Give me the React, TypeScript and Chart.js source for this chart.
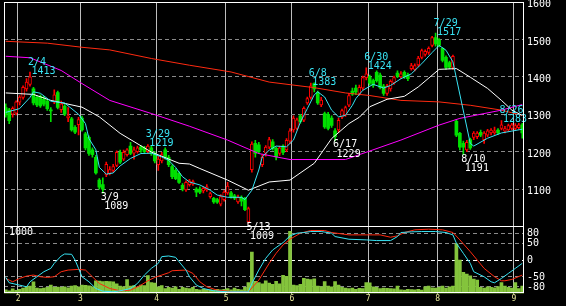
import React, { useEffect, useRef } from 'react';
import { Chart, registerables } from 'chart.js';
Chart.register(...registerables);

// ---- calendar (trading days, 2022) ----
const MONTH_DAYS: [number, number[]][] = [
  [1, [26, 27, 28, 31]],
  [2, [1, 2, 3, 4, 7, 8, 9, 10, 14, 15, 16, 17, 18, 21, 22, 24, 25, 28]],
  [3, [1, 2, 3, 4, 7, 8, 9, 10, 11, 14, 15, 16, 17, 18, 22, 23, 24, 25, 28, 29, 30, 31]],
  [4, [1, 4, 5, 6, 7, 8, 11, 12, 13, 14, 15, 18, 19, 20, 21, 22, 25, 26, 27, 28]],
  [5, [2, 6, 9, 10, 11, 12, 13, 16, 17, 18, 19, 20, 23, 24, 25, 26, 27, 30, 31]],
  [6, [1, 2, 3, 6, 7, 8, 9, 10, 13, 14, 15, 16, 17, 20, 21, 22, 23, 24, 27, 28, 29, 30]],
  [7, [1, 4, 5, 6, 7, 8, 11, 12, 13, 14, 15, 19, 20, 21, 22, 25, 26, 27, 28, 29]],
  [8, [1, 2, 3, 4, 5, 8, 9, 10, 12, 15, 16, 17, 18, 19, 22, 23, 24, 25, 26, 29, 30, 31]],
  [9, [1, 2, 5]],
];
const DATES: string[] = MONTH_DAYS.flatMap(([m, ds]) => ds.map((d) => `${m}/${d}`));

// ---- prices ----
const OPEN = [
  1318, 1312, 1300, 1303, 1332, 1345, 1368, 1380, 1368, 1345,
  1348, 1340, 1335, 1312, 1332, 1358, 1312, 1322, 1290, 1288,
  1265, 1272, 1290, 1248, 1238, 1205, 1185, 1124, 1112, 1138,
  1142, 1150, 1163, 1198, 1180, 1192, 1215, 1196, 1200, 1212,
  1210, 1200, 1210, 1195, 1165, 1175, 1205, 1185, 1160, 1150,
  1142, 1110, 1098, 1112, 1113, 1100, 1100, 1095, 1098, 1080,
  1075, 1072, 1060, 1072, 1090, 1090, 1082, 1066, 1078, 1075,
  1012, 1152, 1222, 1218, 1165, 1196, 1212, 1226, 1209, 1195,
  1215, 1205, 1228, 1258, 1262, 1296, 1284, 1330, 1345, 1382,
  1358, 1325, 1302, 1300, 1290, 1256, 1258, 1292, 1298, 1324,
  1362, 1370, 1356, 1370, 1398, 1400, 1390, 1412, 1405, 1375,
  1356, 1368, 1384, 1410, 1400, 1412, 1405, 1422, 1420, 1432,
  1452, 1460, 1465, 1484, 1505, 1498, 1476, 1452, 1438, 1425,
  1281, 1249, 1222, 1205, 1232, 1238, 1240, 1252, 1232, 1244,
  1250, 1250, 1258, 1262, 1255, 1258, 1262, 1262, 1264, 1272,
];
const HIGH = [
  1328, 1316, 1320, 1336, 1350, 1376, 1395, 1413, 1372, 1350,
  1352, 1348, 1340, 1318, 1365, 1362, 1335, 1326, 1318, 1292,
  1270, 1292, 1295, 1252, 1242, 1210, 1190, 1128, 1130, 1172,
  1160, 1166, 1202, 1204, 1204, 1208, 1225, 1212, 1215, 1216,
  1214, 1219, 1214, 1200, 1188, 1198, 1210, 1190, 1165, 1155,
  1146, 1115, 1122, 1126, 1124, 1104, 1106, 1106, 1112, 1092,
  1078, 1075, 1085, 1096, 1118, 1094, 1086, 1084, 1082, 1078,
  1052, 1226, 1230, 1225, 1192, 1216, 1238, 1232, 1212, 1215,
  1218, 1235, 1262, 1296, 1290, 1300, 1320, 1346, 1383, 1384,
  1362, 1345, 1306, 1305, 1296, 1262, 1290, 1314, 1322, 1356,
  1370, 1378, 1378, 1402, 1424, 1405, 1394, 1416, 1410, 1380,
  1380, 1392, 1402, 1416, 1414, 1416, 1410, 1436, 1435, 1455,
  1474, 1472, 1480, 1508, 1517, 1502, 1478, 1456, 1442, 1458,
  1286, 1252, 1228, 1230, 1236, 1254, 1254, 1258, 1254, 1260,
  1262, 1266, 1262, 1283, 1268, 1274, 1276, 1275, 1276, 1276,
];
const LOW = [
  1292, 1275, 1292, 1298, 1325, 1340, 1362, 1375, 1325, 1320,
  1318, 1322, 1310, 1280, 1328, 1314, 1305, 1296, 1280, 1255,
  1248, 1245, 1255, 1205, 1190, 1185, 1140, 1100, 1089, 1133,
  1138, 1145, 1160, 1168, 1176, 1188, 1192, 1180, 1196, 1198,
  1196, 1196, 1190, 1170, 1150, 1170, 1180, 1160, 1128, 1125,
  1115, 1095, 1094, 1108, 1110, 1080, 1088, 1090, 1094, 1076,
  1062, 1062, 1055, 1068, 1086, 1076, 1072, 1062, 1055, 1042,
  1009, 1145, 1185, 1195, 1160, 1188, 1208, 1204, 1178, 1190,
  1192, 1200, 1222, 1252, 1258, 1276, 1280, 1326, 1340, 1360,
  1326, 1320, 1262, 1258, 1265, 1229, 1252, 1288, 1294, 1320,
  1350, 1352, 1350, 1365, 1392, 1378, 1372, 1386, 1368, 1350,
  1350, 1362, 1380, 1398, 1396, 1396, 1390, 1418, 1416, 1428,
  1448, 1455, 1460, 1480, 1482, 1480, 1440, 1420, 1422, 1420,
  1240, 1205, 1191, 1200, 1206, 1232, 1235, 1240, 1222, 1240,
  1245, 1246, 1246, 1258, 1250, 1254, 1258, 1256, 1260, 1236,
];
const CLOSE = [
  1298, 1283, 1316, 1333, 1346, 1372, 1386, 1400, 1330, 1325,
  1322, 1327, 1315, 1309, 1352, 1318, 1328, 1300, 1296, 1258,
  1252, 1286, 1258, 1210, 1195, 1192, 1143, 1105, 1100, 1166,
  1152, 1160, 1198, 1172, 1198, 1205, 1195, 1205, 1210, 1205,
  1200, 1215, 1195, 1175, 1180, 1192, 1185, 1165, 1133, 1128,
  1118, 1100, 1118, 1122, 1120, 1092, 1092, 1102, 1106, 1088,
  1066, 1065, 1080, 1092, 1108, 1080, 1076, 1078, 1068, 1045,
  1048, 1220, 1195, 1200, 1185, 1212, 1232, 1208, 1186, 1210,
  1198, 1230, 1256, 1290, 1285, 1280, 1316, 1342, 1376, 1368,
  1330, 1338, 1266, 1262, 1270, 1240, 1284, 1310, 1318, 1350,
  1354, 1360, 1372, 1398, 1408, 1383, 1378, 1390, 1372, 1356,
  1375, 1388, 1398, 1402, 1408, 1400, 1395, 1430, 1430, 1450,
  1470, 1468, 1476, 1505, 1488, 1484, 1444, 1425, 1426, 1455,
  1244, 1212, 1212, 1225, 1210, 1250, 1250, 1244, 1250, 1256,
  1258, 1256, 1250, 1272, 1262, 1270, 1272, 1270, 1272, 1250,
];
const VOLUME = [
  60, 45, 75, 50, 70, 90, 110, 120, 190, 90,
  80, 90, 100, 140, 100, 105, 100, 110, 95, 120,
  130, 110, 140, 135, 125, 110, 210, 205, 195, 200,
  195, 190, 160, 120, 110, 230, 120, 130, 100, 140,
  130, 295, 180, 170, 110, 130, 80, 100, 90, 110,
  70, 100, 90, 80, 100, 70, 60, 70, 65, 60,
  55, 70, 60, 70, 80, 60, 90, 70, 60, 100,
  180, 680, 200, 180, 160, 210, 170, 150, 200, 160,
  300, 280, 1020, 140, 130, 150, 250, 235, 230, 240,
  120, 110, 195, 120, 110, 195, 140, 100, 90, 80,
  90, 70, 85, 80, 180, 175, 110, 100, 80, 90,
  85, 80, 75, 120, 60, 55, 70, 65, 60, 70,
  55, 110, 120, 95, 90, 100, 120, 90, 110, 120,
  815, 550, 346, 320, 292, 237, 220, 100, 90, 110,
  100, 95, 115, 180, 120, 100, 90, 180, 80, 120,
];

// ---- moving averages: [day index, value] ----
const MA_SHORT: [number, number][] = [
  [0, 1305], [4, 1315], [7, 1345], [8, 1360], [10, 1356], [13, 1335], [17, 1330], [21, 1300],
  [23, 1275], [24, 1235], [26, 1205], [27, 1158], [29, 1140], [31, 1143], [33, 1162], [36, 1182],
  [39, 1195], [42, 1196], [45, 1186], [47, 1177], [49, 1158], [51, 1133], [53, 1119], [56, 1111],
  [59, 1097], [61, 1084], [64, 1078], [68, 1078], [69, 1072], [71, 1097], [73, 1151], [74, 1186],
  [76, 1204], [78, 1215], [81, 1213], [83, 1231], [85, 1279], [87, 1315], [89, 1352], [90, 1360],
  [92, 1346], [94, 1311], [96, 1293], [98, 1297], [100, 1324], [101, 1342], [103, 1364], [106, 1380],
  [109, 1370], [111, 1377], [114, 1395], [117, 1408], [120, 1435], [123, 1465], [125, 1484], [127, 1471],
  [129, 1440], [134, 1222], [135, 1215], [139, 1236], [143, 1250], [146, 1255], [149, 1260],
];
const MA_MID: [number, number][] = [
  [0, 1357], [8, 1353], [13, 1337], [22, 1319], [27, 1293], [33, 1249], [42, 1199], [50, 1169],
  [53, 1167], [56, 1155], [64, 1124], [70, 1097], [76, 1119], [82, 1124], [89, 1169], [94, 1235],
  [99, 1275], [102, 1292], [105, 1320], [110, 1340], [115, 1348], [119, 1373], [125, 1420], [130, 1422],
  [134, 1399], [139, 1369], [143, 1337], [146, 1311], [149, 1297],
];
const MA_LONG: [number, number][] = [
  [0, 1455], [7, 1451], [16, 1417], [22, 1382], [30, 1337], [42, 1302], [53, 1268], [64, 1231],
  [73, 1195], [82, 1179], [98, 1179], [102, 1192], [114, 1231], [125, 1271], [131, 1289], [143, 1311],
  [149, 1326],
];
const MA_XLONG: [number, number][] = [
  [0, 1495], [12, 1490], [22, 1479], [30, 1472], [42, 1449], [53, 1431], [65, 1413], [76, 1386],
  [89, 1371], [98, 1357], [105, 1350], [114, 1337], [125, 1333], [134, 1324], [143, 1311], [149, 1297],
];

// ---- oscillators (lower panel) ----
const OSC_FAST: [number, number][] = [
  [0, -52], [1, -68], [4, -75], [6, -80], [7, -65], [9, -50], [11, -35], [13, -25], [14, -10], [16, 12],
  [17, 18], [19, 17], [20, 0], [21, -25], [22, -50], [24, -65], [26, -85], [28, -93], [31, -95], [34, -90],
  [36, -85], [38, -70], [40, -45], [42, -25], [44, -10], [45, 10], [47, 12], [49, 8], [50, -5], [52, -30],
  [53, -50], [55, -75], [57, -85], [60, -92], [64, -95], [70, -95], [71, -70], [73, -30], [75, 5], [77, 30],
  [80, 52], [82, 72], [84, 80], [86, 82], [88, 85], [91, 85], [94, 80], [95, 70], [99, 62], [104, 60],
  [107, 58], [111, 58], [113, 70], [114, 82], [117, 84], [120, 85], [124, 85], [127, 82], [129, 75], [130, 50],
  [132, 20], [134, -10], [135, -35], [138, -50], [140, -65], [141, -68], [143, -55], [145, -40], [147, -25], [149, -10],
];
const OSC_SLOW: [number, number][] = [
  [0, -55], [2, -65], [4, -55], [6, -48], [8, -45], [10, -50], [12, -52], [14, -50], [16, -35], [18, -30],
  [21, -28], [23, -30], [25, -50], [27, -70], [30, -85], [33, -92], [36, -90], [39, -75], [41, -62], [43, -52],
  [45, -45], [47, -38], [48, -32], [52, -30], [54, -40], [56, -65], [58, -80], [61, -90], [66, -95], [70, -95],
  [73, -60], [76, -10], [78, 20], [80, 45], [82, 62], [85, 80], [88, 88], [92, 88], [94, 82], [99, 75],
  [104, 75], [108, 75], [111, 68], [113, 72], [115, 82], [118, 90], [122, 92], [126, 90], [129, 82], [131, 60],
  [134, 25], [136, 0], [138, -25], [141, -50], [143, -62], [144, -62], [146, -58], [149, -45],
];

const HIGH_MARKS: [string, number][] = [['2/4', 1413], ['3/29', 1219], ['6/8', 1383], ['6/30', 1424], ['7/29', 1517], ['8/26', 1283]];
const LOW_MARKS: [string, number][] = [['3/9', 1089], ['5/13', 1009], ['6/17', 1229], ['8/10', 1191]];
const PRICE_TICKS = [1000, 1100, 1200, 1300, 1400, 1500, 1600];
const OSC_TICKS = [-80, -50, 0, 50, 80];

const MONTH_LABEL: Record<number, string> = {};
DATES.forEach((d, i) => {
  if (i > 0 && d.split('/')[0] !== DATES[i - 1].split('/')[0]) MONTH_LABEL[i] = d.split('/')[0];
});

const FONT = 'DejaVu Sans Mono';
const RED = '#ff0000';
const GREEN = '#00e000';
const CYAN = '#38e4f4';
const VGRID = '#bdbdbd';
const HGRID = '#8a8a8a';

const knots = (arr: [number, number][]) => arr.map(([i, v]) => ({ x: DATES[i], y: v }));
const isUp = (i: number) => CLOSE[i] >= OPEN[i];

function frame(chart: any, bottomInset: number) {
  const { ctx, chartArea: a } = chart;
  ctx.save();
  ctx.strokeStyle = '#ffffff';
  ctx.lineWidth = 1;
  const L = Math.floor(a.left) + 0.5;
  const R = Math.ceil(a.right) - 0.5;
  const T = Math.floor(a.top) + 0.5;
  const B = Math.round(a.bottom) - 0.5 - bottomInset;
  ctx.strokeRect(L, T, R - L, B - T);
  ctx.restore();
}

export default function App() {
  const mainRef = useRef<HTMLCanvasElement>(null);
  const subRef = useRef<HTMLCanvasElement>(null);

  useEffect(() => {
    document.body.style.margin = '0';
    document.body.style.background = '#000';
    Chart.defaults.font.family = FONT;

    const mainDecor = {
      id: 'mainDecor',
      afterDatasetsDraw(chart: any) {
        const { ctx, scales } = chart;
        const xs = scales.x;
        const ys = scales.y;
        ctx.save();
        ctx.font = `10px "${FONT}"`;
        ctx.textBaseline = 'middle';
        ctx.textAlign = 'left';
        HIGH_MARKS.forEach(([d, v]) => {
          const x = xs.getPixelForValue(DATES.indexOf(d));
          const y = ys.getPixelForValue(v);
          ctx.fillStyle = CYAN;
          ctx.fillText(d, x - 2, y - 10);
          ctx.fillText(String(v), x + 1.5, y - 1);
        });
        LOW_MARKS.forEach(([d, v]) => {
          const x = xs.getPixelForValue(DATES.indexOf(d));
          const y = ys.getPixelForValue(v);
          ctx.fillStyle = '#ffffff';
          ctx.fillText(d, x - 2, y + 4);
          ctx.fillText(String(v), x + 1.5, y + 13.5);
        });
        ctx.restore();
        frame(chart, 0);
      },
    };

    const main = new Chart(mainRef.current!, {
      type: 'bar',
      data: {
        labels: DATES,
        datasets: [
          { type: 'line', data: knots(MA_SHORT) as any, borderColor: CYAN, borderWidth: 1, pointRadius: 0, order: 0 },
          { type: 'line', data: knots(MA_MID) as any, borderColor: '#ffffff', borderWidth: 1, pointRadius: 0, order: 1 },
          { type: 'line', data: knots(MA_LONG) as any, borderColor: '#ff00ff', borderWidth: 1, pointRadius: 0, order: 2 },
          { type: 'line', data: knots(MA_XLONG) as any, borderColor: '#ff2a10', borderWidth: 1, pointRadius: 0, order: 3 },
          {
            type: 'bar',
            data: OPEN.map((o, i) => [o, CLOSE[i]]) as any,
            backgroundColor: OPEN.map((_, i) => (isUp(i) ? '#000000' : GREEN)),
            borderColor: OPEN.map((_, i) => (isUp(i) ? RED : GREEN)),
            borderWidth: OPEN.map((_, i) => (isUp(i) ? 1 : 0)),
            borderSkipped: false,
            barThickness: 3,
            grouped: false,
            order: 4,
          } as any,
          {
            type: 'bar',
            data: LOW.map((l, i) => [l, HIGH[i]]) as any,
            backgroundColor: OPEN.map((_, i) => (isUp(i) ? RED : GREEN)),
            borderWidth: 0,
            barThickness: 1,
            grouped: false,
            order: 5,
          } as any,
        ],
      },
      options: {
        responsive: false,
        animation: false,
        devicePixelRatio: 1,
        events: [],
        layout: { padding: { left: 4, right: 0, top: 2, bottom: 79.5 } },
        plugins: { legend: { display: false }, tooltip: { enabled: false } },
        scales: {
          x: {
            type: 'category',
            offset: true,
            grid: {
              offset: true,
              drawTicks: false,
              color: (c: any) => (MONTH_LABEL[c.index] ? VGRID : 'transparent'),
              lineWidth: 1,
            },
            border: { display: false },
            ticks: { display: false },
            afterFit: (s: any) => { s.height = 0; s.paddingLeft = 0; s.paddingRight = 0; },
          },
          y: {
            position: 'right',
            min: 1000,
            max: 1600,
            afterBuildTicks: (s: any) => { s.ticks = PRICE_TICKS.map((v) => ({ value: v })); },
            grid: {
              drawTicks: false,
              color: (c: any) => (c.tick && c.tick.value > 1000 && c.tick.value < 1600 ? HGRID : 'transparent'),
              lineWidth: 1,
            },
            border: { display: false, dash: [4, 3] },
            ticks: {
              color: '#ffffff',
              font: { family: FONT, size: 10 },
              padding: 3,
              labelOffset: 2.5,
              callback: (v: any) => (v === 1000 ? '' : String(v)),
            },
            afterFit: (s: any) => { s.width = 42; s.paddingTop = 0; s.paddingBottom = 0; },
          },
        },
      } as any,
      plugins: [mainDecor],
    });

    const subDecor = {
      id: 'subDecor',
      afterDatasetsDraw(chart: any) {
        const { ctx, scales } = chart;
        ctx.save();
        ctx.font = `10px "${FONT}"`;
        ctx.textBaseline = 'middle';
        ctx.textAlign = 'left';
        ctx.fillStyle = '#ffffff';
        ctx.fillText('1000', 9, scales.vol.getPixelForValue(1000) - 0.5);
        ctx.restore();
        frame(chart, 1);
      },
    };

    const sub = new Chart(subRef.current!, {
      type: 'bar',
      data: {
        labels: DATES,
        datasets: [
          { type: 'line', data: knots(OSC_FAST) as any, yAxisID: 'osc', borderColor: CYAN, borderWidth: 1, pointRadius: 0, order: 0 },
          { type: 'line', data: knots(OSC_SLOW) as any, yAxisID: 'osc', borderColor: '#ff2a10', borderWidth: 1, pointRadius: 0, order: 1 },
          {
            type: 'bar',
            data: VOLUME,
            yAxisID: 'vol',
            backgroundColor: '#84c43c',
            borderWidth: 0,
            barThickness: 3,
            grouped: false,
            order: 2,
          } as any,
        ],
      },
      options: {
        responsive: false,
        animation: false,
        devicePixelRatio: 1,
        events: [],
        layout: { padding: { left: 4, right: 0, top: 226.5, bottom: 0 } },
        plugins: { legend: { display: false }, tooltip: { enabled: false } },
        scales: {
          x: {
            type: 'category',
            offset: true,
            grid: {
              offset: true,
              drawTicks: false,
              color: (c: any) => (MONTH_LABEL[c.index] ? VGRID : 'transparent'),
              lineWidth: 1,
            },
            border: { display: false },
            ticks: {
              autoSkip: false,
              maxRotation: 0,
              minRotation: 0,
              padding: 1,
              labelOffset: -1.5,
              color: '#ecec9c',
              font: { family: FONT, size: 8 },
              callback: (_v: any, i: number) => MONTH_LABEL[i] || '',
            },
            afterFit: (s: any) => { s.height = 12.5; s.paddingLeft = 0; s.paddingRight = 0; },
          },
          osc: {
            position: 'right',
            min: -100,
            max: 100,
            afterBuildTicks: (s: any) => { s.ticks = OSC_TICKS.map((v) => ({ value: v })); },
            grid: {
              drawTicks: false,
              color: (c: any) => (c.tick && c.tick.value === 0 ? '#ffffff' : HGRID),
              lineWidth: 1,
            },
            border: { display: false, dash: [4, 3] },
            ticks: { color: '#ffffff', font: { family: FONT, size: 10 }, padding: 3, labelOffset: 0.5 },
            afterFit: (s: any) => { s.width = 42; s.paddingTop = 0; s.paddingBottom = 0; },
          },
          vol: {
            position: 'left',
            display: false,
            min: 0,
            max: 1100,
          },
        },
      } as any,
      plugins: [subDecor],
    });

    return () => {
      main.destroy();
      sub.destroy();
    };
  }, []);

  return (
    <div style={{ position: 'fixed', left: 0, top: 0, width: 566, height: 306, background: '#000' }}>
      <canvas ref={mainRef} width={566} height={306} style={{ position: 'absolute', left: 0, top: 0 }} />
      <canvas ref={subRef} width={566} height={306} style={{ position: 'absolute', left: 0, top: 0 }} />
    </div>
  );
}
